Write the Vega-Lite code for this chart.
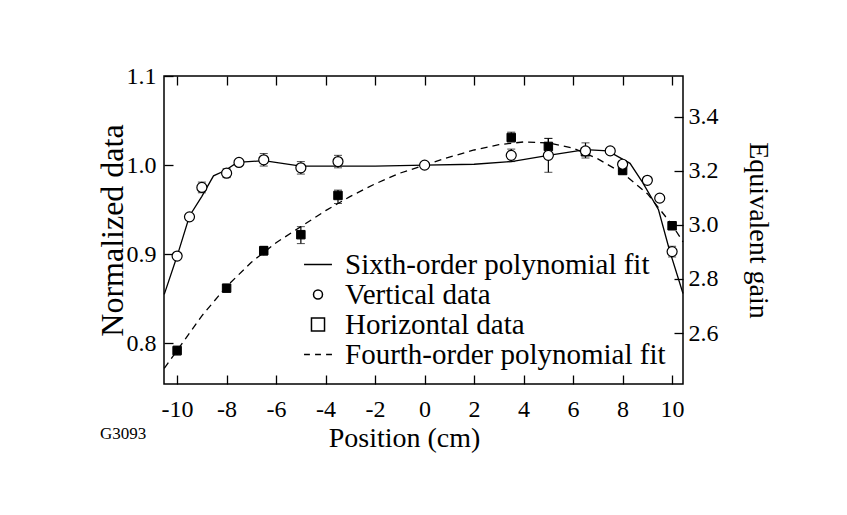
{
  "$schema": "https://vega.github.io/schema/vega-lite/v6.json",
  "width": 519,
  "height": 308,
  "autosize": {"type": "none"},
  "padding": {"left": 164, "top": 76, "right": 164, "bottom": 131},
  "background": "white",
  "title": {"text": "G3093", "orient": "bottom", "anchor": "start", "frame": "group", "font": "Liberation Serif", "fontSize": 17, "fontWeight": "normal", "color": "black", "dx": -64, "dy": -30},
  "config": {
    "font": "Liberation Serif",
    "view": {"stroke": "black", "strokeWidth": 1.5},
    "axis": {"domain": false, "grid": false, "tickColor": "black", "tickWidth": 1.3, "labelColor": "black", "titleColor": "black", "labelFont": "Liberation Serif", "titleFont": "Liberation Serif", "titleFontWeight": "normal", "labelFontSize": 24, "titleFontSize": 28}
  },
  "datasets": {
    "pts": [
      {"series": "Horizontal data", "x": -10, "y": 0.792, "lo": 0.787, "hi": 0.797},
      {"series": "Horizontal data", "x": -8, "y": 0.862, "lo": 0.859, "hi": 0.865},
      {"series": "Horizontal data", "x": -6.5, "y": 0.904, "lo": 0.899, "hi": 0.909},
      {"series": "Horizontal data", "x": -5, "y": 0.922, "lo": 0.912, "hi": 0.931},
      {"series": "Horizontal data", "x": -3.5, "y": 0.966, "lo": 0.957, "hi": 0.972},
      {"series": "Horizontal data", "x": 3.5, "y": 1.031, "lo": 1.026, "hi": 1.037},
      {"series": "Horizontal data", "x": 5, "y": 1.021, "lo": 1.013, "hi": 1.03},
      {"series": "Horizontal data", "x": 6.5, "y": 1.015, "lo": 1.012, "hi": 1.018},
      {"series": "Horizontal data", "x": 8, "y": 0.994, "lo": 0.99, "hi": 0.998},
      {"series": "Horizontal data", "x": 10, "y": 0.932, "lo": 0.928, "hi": 0.936},
      {"series": "Vertical data", "x": -10, "y": 0.898, "lo": 0.895, "hi": 0.901},
      {"series": "Vertical data", "x": -9.5, "y": 0.942, "lo": 0.939, "hi": 0.945},
      {"series": "Vertical data", "x": -9, "y": 0.975, "lo": 0.969, "hi": 0.981},
      {"series": "Vertical data", "x": -8, "y": 0.991, "lo": 0.986, "hi": 0.996},
      {"series": "Vertical data", "x": -7.5, "y": 1.003, "lo": 1.0, "hi": 1.006},
      {"series": "Vertical data", "x": -6.5, "y": 1.006, "lo": 0.999, "hi": 1.013},
      {"series": "Vertical data", "x": -5, "y": 0.997, "lo": 0.99, "hi": 1.004},
      {"series": "Vertical data", "x": -3.5, "y": 1.004, "lo": 0.997, "hi": 1.011},
      {"series": "Vertical data", "x": 0, "y": 1.0, "lo": 0.998, "hi": 1.002},
      {"series": "Vertical data", "x": 3.5, "y": 1.011, "lo": 1.004, "hi": 1.018},
      {"series": "Vertical data", "x": 5, "y": 1.011, "lo": 0.992, "hi": 1.03},
      {"series": "Vertical data", "x": 6.5, "y": 1.016, "lo": 1.008, "hi": 1.025},
      {"series": "Vertical data", "x": 7.5, "y": 1.016, "lo": 1.014, "hi": 1.018},
      {"series": "Vertical data", "x": 8, "y": 1.001, "lo": 0.998, "hi": 1.004},
      {"series": "Vertical data", "x": 9, "y": 0.983, "lo": 0.98, "hi": 0.986},
      {"series": "Vertical data", "x": 9.5, "y": 0.963, "lo": 0.96, "hi": 0.966},
      {"series": "Vertical data", "x": 10, "y": 0.903, "lo": 0.897, "hi": 0.909}
    ],
    "sixth": [
      {"x": -10.52, "y": 0.855}, {"x": -10, "y": 0.898}, {"x": -9.5, "y": 0.943}, {"x": -9, "y": 0.965},
      {"x": -8.53, "y": 0.988}, {"x": -8.06, "y": 0.994}, {"x": -7.57, "y": 1.003}, {"x": -6.5, "y": 1.005},
      {"x": -5, "y": 0.999}, {"x": -4, "y": 0.999}, {"x": -2, "y": 0.999}, {"x": 0, "y": 1.0},
      {"x": 2, "y": 1.001}, {"x": 3.5, "y": 1.004}, {"x": 5, "y": 1.011}, {"x": 6.5, "y": 1.0175},
      {"x": 7.4, "y": 1.016}, {"x": 8.3, "y": 1.002}, {"x": 8.8, "y": 0.981}, {"x": 9.45, "y": 0.95},
      {"x": 9.9, "y": 0.904}, {"x": 10.44, "y": 0.856}
    ],
    "fourth": [
      {"x": -10.52, "y": 0.772}, {"x": -10, "y": 0.792}, {"x": -9, "y": 0.831}, {"x": -8, "y": 0.864},
      {"x": -7, "y": 0.891}, {"x": -6, "y": 0.913}, {"x": -5, "y": 0.931}, {"x": -4, "y": 0.949},
      {"x": -3, "y": 0.965}, {"x": -2, "y": 0.979}, {"x": -1, "y": 0.991}, {"x": 0, "y": 1.0},
      {"x": 1, "y": 1.009}, {"x": 2, "y": 1.017}, {"x": 3, "y": 1.023}, {"x": 4, "y": 1.026},
      {"x": 5, "y": 1.025}, {"x": 6, "y": 1.019}, {"x": 7, "y": 1.007}, {"x": 8, "y": 0.991},
      {"x": 9, "y": 0.968}, {"x": 10, "y": 0.933}, {"x": 10.44, "y": 0.914}
    ],
    "legendrows": [
      {"series": "Sixth-order polynomial fit"},
      {"series": "Vertical data"},
      {"series": "Horizontal data"},
      {"series": "Fourth-order polynomial fit"}
    ],
    "gainaxis": [{"gain": 2.6}, {"gain": 3.4}]
  },
  "layer": [
    {
      "layer": [
        {
          "data": {"name": "sixth"},
          "mark": {"type": "line", "color": "black", "strokeWidth": 1.3},
          "encoding": {
            "x": {"field": "x", "type": "quantitative", "scale": {"domain": [-10.53, 10.44], "nice": false, "zero": false},
              "axis": {"orient": "bottom", "title": "Position (cm)", "values": [-10, -8, -6, -4, -2, 0, 2, 4, 6, 8, 10], "labelExpr": "'' + datum.value", "tickSize": -9, "labelPadding": 22, "titlePadding": 3, "titleFontSize": 28, "titleX": 240}},
            "y": {"field": "y", "type": "quantitative", "scale": {"domain": [0.7545, 1.1], "nice": false, "zero": false},
              "axis": {"orient": "left", "title": "Normalized data", "values": [0.8, 0.9, 1.0, 1.1], "format": ".1f", "tickSize": -9, "labelPadding": 17, "titlePadding": -3, "titleFontSize": 32}}
          }
        },
        {
          "data": {"name": "fourth"},
          "mark": {"type": "line", "color": "black", "strokeWidth": 1.3, "strokeDash": [7, 5]},
          "encoding": {
            "x": {"field": "x", "type": "quantitative"},
            "y": {"field": "y", "type": "quantitative", "title": "Normalized data"}
          }
        },
        {
          "data": {"name": "pts"},
          "mark": {"type": "errorbar", "ticks": {"size": 8, "color": "black", "strokeWidth": 1.2}, "rule": {"color": "black", "strokeWidth": 1.2}},
          "encoding": {
            "x": {"field": "x", "type": "quantitative"},
            "y": {"field": "lo", "type": "quantitative", "title": "Normalized data"},
            "y2": {"field": "hi"}
          }
        },
        {
          "data": {"name": "pts"},
          "transform": [{"filter": "datum.series === 'Horizontal data'"}],
          "mark": {"type": "point", "shape": "square", "filled": true, "fill": "black", "stroke": "black", "strokeWidth": 1, "size": 72, "opacity": 1},
          "encoding": {
            "x": {"field": "x", "type": "quantitative"},
            "y": {"field": "y", "type": "quantitative", "title": "Normalized data"}
          }
        },
        {
          "data": {"name": "pts"},
          "transform": [{"filter": "datum.series === 'Vertical data'"}],
          "mark": {"type": "point", "shape": "circle", "filled": true, "fill": "white", "stroke": "black", "strokeWidth": 1.2, "size": 100, "opacity": 1},
          "encoding": {
            "x": {"field": "x", "type": "quantitative"},
            "y": {"field": "y", "type": "quantitative", "title": "Normalized data"}
          }
        },
        {
          "data": {"name": "legendrows"},
          "mark": {"type": "point", "filled": false, "stroke": "black", "strokeWidth": 1.5, "size": 81, "opacity": 1},
          "encoding": {
            "x": {"field": "x", "type": "quantitative"},
            "y": {"field": "y", "type": "quantitative", "title": "Normalized data"},
            "shape": {"field": "series", "type": "nominal",
              "scale": {"domain": ["Sixth-order polynomial fit", "Vertical data", "Horizontal data", "Fourth-order polynomial fit"],
                "range": ["M-3.1,0H3.1", "circle", "M-1.45,-1.45H1.45V1.45H-1.45Z", "M-3.1,0H-1.8M-0.65,0H0.65M1.8,0H3.1"]},
              "legend": {"orient": "none", "legendX": 139.5, "legendY": 174, "title": null, "padding": 0,
                "labelFont": "Liberation Serif", "labelFontSize": 29, "labelColor": "black", "labelOffset": 12.5, "labelLimit": 0, "rowPadding": 0,
                "symbolSize": 81, "symbolStrokeWidth": 1.5}}
          }
        }
      ]
    },
    {
      "data": {"name": "gainaxis"},
      "mark": {"type": "point", "opacity": 0},
      "encoding": {
        "x": {"field": "x", "type": "quantitative", "scale": {"domain": [-10.53, 10.44], "nice": false, "zero": false},
          "axis": {"orient": "top", "title": null, "labels": false, "values": [-10, -8, -6, -4, -2, 0, 2, 4, 6, 8, 10], "tickSize": -9}},
        "y": {"field": "gain", "type": "quantitative", "scale": {"domain": [2.412, 3.55], "nice": false, "zero": false},
          "axis": {"orient": "right", "title": "Equivalent gain", "values": [2.6, 2.8, 3.0, 3.2, 3.4], "format": ".1f", "tickSize": -9, "labelPadding": 14, "titlePadding": 25}}
      }
    }
  ],
  "resolve": {"scale": {"y": "independent"}, "axis": {"x": "independent"}}
}
